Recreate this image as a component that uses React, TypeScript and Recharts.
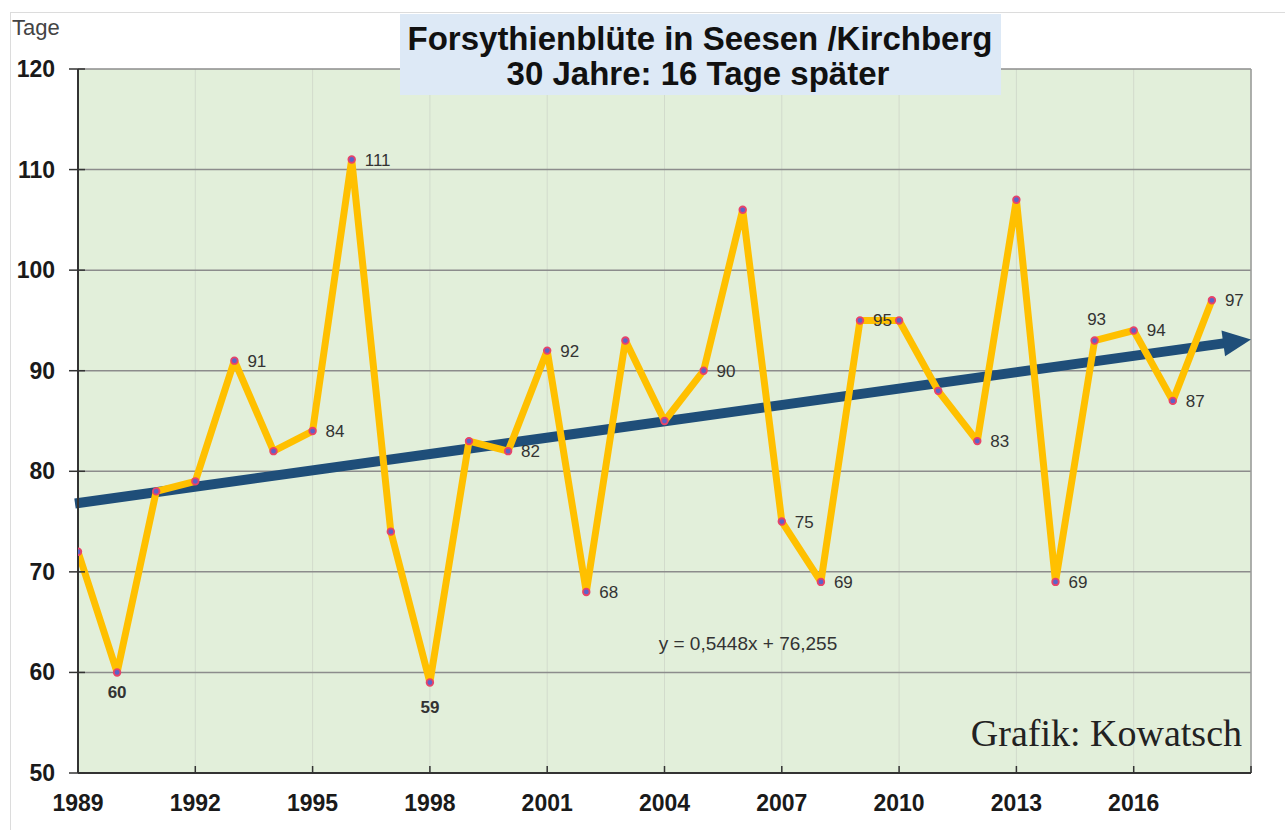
import React from 'react';
import { ComposedChart, Line, XAxis, YAxis, CartesianGrid, ReferenceLine } from 'recharts';

const years = [1989, 1990, 1991, 1992, 1993, 1994, 1995, 1996, 1997, 1998, 1999, 2000, 2001, 2002, 2003, 2004, 2005, 2006, 2007, 2008, 2009, 2010, 2011, 2012, 2013, 2014, 2015, 2016, 2017, 2018];
const days = [72, 60, 78, 79, 91, 82, 84, 111, 74, 59, 83, 82, 92, 68, 93, 85, 90, 106, 75, 69, 95, 95, 88, 83, 107, 69, 93, 94, 87, 97];
const xTicks = [1989, 1992, 1995, 1998, 2001, 2004, 2007, 2010, 2013, 2016, 2019];
const xTickLabels = ['1989', '1992', '1995', '1998', '2001', '2004', '2007', '2010', '2013', '2016', ''];
const yTicks = [50, 60, 70, 80, 90, 100, 110, 120];
const trendYears = [1989, 2019];
const trendValues = [76.8, 93.1];
const titleLines = ['Forsythienblüte in Seesen /Kirchberg', '30 Jahre: 16 Tage später'];
const yUnit = 'Tage';
const equation = 'y = 0,5448x + 76,255';
const credit = 'Grafik: Kowatsch';

// which points carry a value label, and where
const labelPlacement: Record<number, 'right' | 'below' | 'above'> = {
  1990: 'below', 1993: 'right', 1995: 'right', 1996: 'right', 1998: 'below', 2000: 'right',
  2001: 'right', 2002: 'right', 2005: 'right', 2007: 'right', 2008: 'right', 2009: 'right',
  2012: 'right', 2014: 'right', 2015: 'above', 2016: 'right', 2017: 'right', 2018: 'right',
};

const data = years.map((y, i) => ({ year: y, days: days[i] }));

const SANS = '"Liberation Sans", Arial, Helvetica, sans-serif';
const SERIF = '"Liberation Serif", "Times New Roman", serif';

const XTick = (props: any) => {
  const { x, y, payload } = props;
  const label = xTickLabels[xTicks.indexOf(payload.value)] ?? '';
  return (
    <g>
      <line x1={x} y1={y} x2={x} y2={y - 7} stroke="#333" strokeWidth={1.5} />
      <text x={x} y={y + 38} textAnchor="middle" fontFamily={SANS} fontWeight="bold" fontSize={23} fill="#1a1a1a">
        {label}
      </text>
    </g>
  );
};

const YTick = (props: any) => {
  const { x, y, payload } = props;
  return (
    <g>
      <line x1={x - 9} y1={y} x2={x + 7} y2={y} stroke="#333" strokeWidth={1.5} />
      <text x={x - 23} y={y + 8} textAnchor="end" fontFamily={SANS} fontWeight="bold" fontSize={23} fill="#1a1a1a">
        {payload.value}
      </text>
    </g>
  );
};

const PointDot = (props: any) => {
  const { cx, cy, payload } = props;
  const place = labelPlacement[payload.year];
  let label = null;
  if (place === 'right') {
    label = (
      <text x={cx + 13} y={cy + 6} fontFamily={SANS} fontSize={17} fill="#333">{payload.days}</text>
    );
  } else if (place === 'below') {
    const dy = payload.year === 1998 ? 31 : 26;
    label = (
      <text x={cx} y={cy + dy} textAnchor="middle" fontFamily={SANS} fontWeight="bold" fontSize={17} fill="#333">{payload.days}</text>
    );
  } else if (place === 'above') {
    label = (
      <text x={cx + 2} y={cy - 16} textAnchor="middle" fontFamily={SANS} fontSize={17} fill="#333">{payload.days}</text>
    );
  }
  return (
    <g key={`pt-${payload.year}`}>
      <circle cx={cx} cy={cy} r={3.3} fill="#5a64c8" stroke="#e8436a" strokeWidth={1.8} />
      {label}
    </g>
  );
};

const Arrow = (props: any) => {
  const { x1, y1, x2, y2 } = props;
  const ang = Math.atan2(y2 - y1, x2 - x1);
  const len = 28;
  const half = 13;
  const bx = x2 - len * Math.cos(ang);
  const by = y2 - len * Math.sin(ang);
  const px = -Math.sin(ang);
  const py = Math.cos(ang);
  return (
    <g>
      <line x1={x1 - 3} y1={y1} x2={bx + 2 * Math.cos(ang)} y2={by + 2 * Math.sin(ang)} stroke="#1f4e79" strokeWidth={10} />
      <polygon
        points={`${x2},${y2} ${bx + half * px},${by + half * py} ${bx - half * px},${by - half * py}`}
        fill="#1f4e79"
      />
    </g>
  );
};

export default function App() {
  return (
    <div style={{ position: 'absolute', left: 0, top: 0, width: 1285, height: 830, background: '#fff', overflow: 'hidden' }}>
      <div style={{ position: 'absolute', left: 10, top: 12, width: 1300, height: 900, borderTop: '1.5px solid #dcdcdc', borderLeft: '1.5px solid #dcdcdc' }} />
      <div style={{ position: 'absolute', left: 0, top: 0 }}>
        <ComposedChart width={1285} height={830} data={data} margin={{ top: 69, right: 34, bottom: 0, left: 0 }}>
          <CartesianGrid horizontal={false} vertical={true} stroke="#d2dbcc" strokeWidth={1} fill="#e2efda" />
          <CartesianGrid horizontal={true} vertical={false} stroke="#8c8c8c" strokeWidth={1.5} />
          <XAxis
            dataKey="year"
            type="number"
            domain={[1989, 2019]}
            ticks={xTicks}
            interval={0}
            tickSize={0}
            tickMargin={0}
            tick={<XTick />}
            axisLine={{ stroke: '#333', strokeWidth: 2 }}
            tickLine={false}
            height={57}
            allowDataOverflow
          />
          <YAxis
            type="number"
            domain={[50, 120]}
            ticks={yTicks}
            interval={0}
            tickSize={0}
            tickMargin={0}
            tick={<YTick />}
            axisLine={{ stroke: '#333', strokeWidth: 2 }}
            tickLine={false}
            width={78}
            allowDataOverflow
          />
          <ReferenceLine x={2019} stroke="#9a9a9a" strokeWidth={1.5} ifOverflow="visible" />
          <ReferenceLine
            segment={[{ x: trendYears[0], y: trendValues[0] }, { x: trendYears[1], y: trendValues[1] }]}
            ifOverflow="visible"
            shape={(p: any) => <Arrow {...p} />}
          />
          <Line
            type="linear"
            dataKey="days"
            stroke="#ffc000"
            strokeWidth={7}
            strokeLinejoin="round"
            dot={(p: any) => <PointDot {...p} />}
            activeDot={false}
            isAnimationActive={false}
          />
        </ComposedChart>
      </div>
      <svg width={1285} height={830} style={{ position: 'absolute', left: 0, top: 0, pointerEvents: 'none' }}>
        <text x={12} y={35} fontFamily={SANS} fontSize={22} fill="#444">{yUnit}</text>
        <rect x={400} y={14} width={601} height={81} fill="#dde9f6" />
        <text x={700} y={50} textAnchor="middle" fontFamily={SANS} fontWeight="bold" fontSize={33} fill="#111">{titleLines[0]}</text>
        <text x={698} y={85} textAnchor="middle" fontFamily={SANS} fontWeight="bold" fontSize={33} fill="#111">{titleLines[1]}</text>
        <text x={748} y={650} textAnchor="middle" fontFamily={SANS} fontSize={19} fill="#333">{equation}</text>
        <text x={1242} y={746} textAnchor="end" fontFamily={SERIF} fontSize={38} fill="#222">{credit}</text>
      </svg>
    </div>
  );
}
